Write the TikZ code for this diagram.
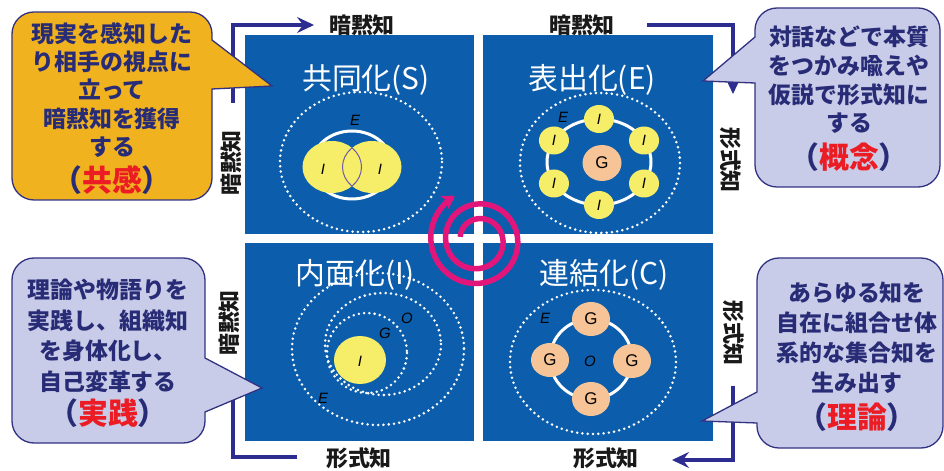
\documentclass[tikz,border=0pt]{standalone}
\usepackage{fontspec}
\newfontfamily\jp{Noto Sans CJK JP}
\newfontfamily\lat{Liberation Sans}
\usetikzlibrary{arrows.meta}
\definecolor{boxblue}{RGB}{12,94,172}
\definecolor{bubor}{RGB}{240,178,30}
\definecolor{bublav}{RGB}{201,204,232}
\definecolor{bubborder}{RGB}{50,50,130}
\definecolor{bubtext}{RGB}{40,44,118}
\definecolor{redw}{RGB}{235,28,36}
\definecolor{yel}{RGB}{246,237,105}
\definecolor{peach}{RGB}{246,196,150}
\definecolor{spiralc}{RGB}{226,22,122}
\definecolor{navyline}{RGB}{45,45,145}
\definecolor{axtext}{RGB}{25,25,25}
\definecolor{lens}{RGB}{110,90,170}
\begin{document}
\begin{tikzpicture}[x=1bp,y=-1bp,
  quadbox/.style={fill=boxblue},
  dotring/.style={draw=white, line width=2.8bp, line cap=round, dash pattern=on 0pt off 5.3bp},
  ring/.style={draw=white, line width=3bp},
  titletext/.style={text=white, font=\jp\fontsize{30}{30}\selectfont, inner sep=0},
  ltr/.style={font=\lat\itshape\fontsize{15}{15}\selectfont, inner sep=0, text=black},
  gl/.style={font=\lat\fontsize{17}{17}\selectfont, inner sep=0, text=black},
  axarrow/.style={draw=navyline, line width=4bp, -{Stealth[length=17pt,width=16pt,inset=6pt]}},
  axlab/.style={font=\jp\bfseries\fontsize{22}{22}\selectfont, text=axtext, inner sep=0},
  bub/.style={draw=bubborder, line width=1.3bp},
  btext/.style={font=\jp\bfseries\fontsize{23}{#1}\selectfont, text=bubtext, align=center, inner sep=0},
  bred/.style={font=\jp\bfseries\fontsize{30}{30}\selectfont, text=bubtext, inner sep=0},
  spiral/.style={draw=spiralc, line width=5.5bp, -{Stealth[length=12pt,width=15pt,inset=3pt]}},
]
\useasboundingbox (0,0) rectangle (944,471);
\fill[white] (0,0) rectangle (944,471);

% quadrants
\fill[quadbox] (245,35) rectangle (474,234);
\fill[quadbox] (483,35) rectangle (713,234);
\fill[quadbox] (245,243) rectangle (474,441);
\fill[quadbox] (483,243) rectangle (713,441);

% titles
\node[titletext] (ts) at (366,80) {共同化(S)};
\node[titletext] (te) at (592,80) {表出化(E)};
\node[titletext] (ti) at (355,275) {内面化(I)};
\node[titletext] (tc) at (604,275) {連結化(C)};

% TL: socialization
\draw[dotring] (361,162) ellipse[x radius=81,y radius=70];
\draw[ring] (352,165) ellipse[x radius=40,y radius=34];
\fill[yel] (332,167) ellipse[x radius=29.5,y radius=26];
\fill[yel] (372,167) ellipse[x radius=29.5,y radius=26];
\begin{scope}
  \clip (332,167) ellipse[x radius=29.5,y radius=26];
  \draw[lens, line width=1bp] (372,167) ellipse[x radius=29.5,y radius=26];
\end{scope}
\begin{scope}
  \clip (372,167) ellipse[x radius=29.5,y radius=26];
  \draw[lens, line width=1bp] (332,167) ellipse[x radius=29.5,y radius=26];
\end{scope}
\node[ltr] (se) at (355,120) {E};
\node[ltr] (si1) at (323,169) {I};
\node[ltr] (si2) at (380,169) {I};

% TR: externalization
\draw[dotring] (600,163) ellipse[x radius=80,y radius=70];
\draw[ring] (599,162) ellipse[x radius=52,y radius=43];
\foreach \a [count=\k] in {-90,-30,30,90,150,210} {
  \fill[yel] ({599+52*cos(\a)},{162+43*sin(\a)}) ellipse[x radius=15,y radius=14];
  \node[ltr] (ei\k) at ({599+52*cos(\a)},{162+43*sin(\a)}) {I};
}
\fill[peach] (602,163) ellipse[x radius=19.5,y radius=18];
\node[gl] (eg) at (602,163) {G};
\node[ltr] (ee) at (563,117) {E};

% BR: combination
\draw[dotring] (593,362) ellipse[x radius=83,y radius=72];
\draw[ring] (591,359) ellipse[x radius=41,y radius=40];
\foreach \p [count=\k] in {(591,319),(550,360),(632,361),(591,399)} {
  \fill[peach] \p ellipse[x radius=19,y radius=17];
  \node[gl] (cg\k) at \p {G};
}
\node[ltr] (co) at (590,361) {O};
\node[ltr] (ce) at (545,318) {E};

% BL: internalization
\draw[dotring] (378,349) ellipse[x radius=86,y radius=76];
\draw[dotring] (383,344) ellipse[x radius=58,y radius=51];
\draw[dotring] (367,353) ellipse[x radius=40,y radius=40];
\fill[yel] (360,360) ellipse[x radius=26,y radius=24];
\node[ltr] (ii) at (360,361) {I};
\node[ltr] (ig) at (385,333) {G};
\node[ltr] (io) at (407,318) {O};
\node[ltr] (ie) at (323,398) {E};

% spiral
\draw[spiral] plot[variable=\t, domain=190:962, samples=160, smooth]
  ({478+(18+0.041*(\t-190))*cos(\t)}, {240+(18+0.041*(\t-190))*sin(\t)});

% axis arrows
\coordinate (a1s) at (233,103); \coordinate (a1c) at (233,25); \coordinate (a1e) at (314,25);
\draw[axarrow] (a1s) -- (a1c) -- (a1e);
\coordinate (a2s) at (647,25); \coordinate (a2c) at (733,25); \coordinate (a2e) at (733,94);
\draw[axarrow] (a2s) -- (a2c) -- (a2e);
\coordinate (a3s) at (733,386); \coordinate (a3c) at (733,460); \coordinate (a3e) at (672,460);
\draw[axarrow] (a3s) -- (a3c) -- (a3e);
\coordinate (a4s) at (297,457); \coordinate (a4c) at (233,457); \coordinate (a4e) at (233,380);
\draw[axarrow] (a4s) -- (a4c) -- (a4e);

% axis labels
\node[axlab] (ltop) at (362,25) {暗黙知};
\node[axlab] (rtop) at (582,25) {暗黙知};
\node[axlab] (lbot) at (359,458) {形式知};
\node[axlab] (rbot) at (606,458) {形式知};
\node[axlab, rotate=90] (lup) at (231,163) {暗黙知};
\node[axlab, rotate=90] (llo) at (229,323) {暗黙知};
\node[axlab, rotate=-90] (rup) at (731,160) {形式知};
\node[axlab, rotate=-90] (rlo) at (734,333) {形式知};

% bubbles
\path[bub, fill=bubor] (34,12) -- (190,12) arc[start angle=-90,end angle=0,radius=22]
  -- (212,40) -- (272,86) -- (212,89) -- (212,178) arc[start angle=0,end angle=90,radius=22]
  -- (34,200) arc[start angle=90,end angle=180,radius=22]
  -- (12,34) arc[start angle=180,end angle=270,radius=22] -- cycle;
\path[bub, fill=bublav] (777,8) -- (918,8) arc[start angle=-90,end angle=0,radius=22]
  -- (940,165) arc[start angle=0,end angle=90,radius=22]
  -- (777,187) arc[start angle=90,end angle=180,radius=22]
  -- (755,83) -- (703,81) -- (755,37) -- (755,30) arc[start angle=180,end angle=270,radius=22] -- cycle;
\path[bub, fill=bublav] (34,258) -- (183,258) arc[start angle=-90,end angle=0,radius=22]
  -- (205,358) -- (262,388) -- (205,412) -- (205,421) arc[start angle=0,end angle=90,radius=22]
  -- (34,443) arc[start angle=90,end angle=180,radius=22]
  -- (12,280) arc[start angle=180,end angle=270,radius=22] -- cycle;
\path[bub, fill=bublav] (779,258) -- (921,258) arc[start angle=-90,end angle=0,radius=22]
  -- (943,426) arc[start angle=0,end angle=90,radius=22]
  -- (779,448) arc[start angle=90,end angle=180,radius=22]
  -- (757,423) -- (702,421) -- (757,392) -- (757,280) arc[start angle=180,end angle=270,radius=22] -- cycle;

% bubble texts
\node[btext=28.5] (b1) at (112,90) {現実を感知した\\り相手の視点に\\立って\\暗黙知を獲得\\する};
\node[bred] (b1r) at (112,180) {（\textcolor{redw}{共感}）};
\node[btext=28.7] (b2) at (849,80) {対話などで本質\\をつかみ喩えや\\仮説で形式知に\\する};
\node[bred] (b2r) at (849,157) {（\textcolor{redw}{概念}）};
\node[btext=30.7] (b3) at (108,336) {理論や物語りを\\実践し、組織知\\を身体化し、\\自己変革する};
\node[bred] (b3r) at (108,413) {（\textcolor{redw}{実践}）};
\node[btext=30] (b4) at (857,338) {あらゆる知を\\自在に組合せ体\\系的な集合知を\\生み出す};
\node[bred] (b4r) at (857,417) {（\textcolor{redw}{理論}）};
\end{tikzpicture}
\end{document}
